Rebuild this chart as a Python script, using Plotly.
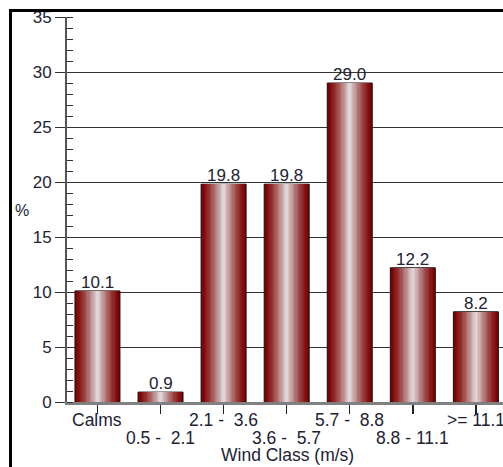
import plotly.graph_objects as go

categories = ["Calms", "0.5 - 2.1", "2.1 - 3.6", "3.6 - 5.7", "5.7 - 8.8", "8.8 - 11.1", ">= 11.1"]
tick_labels = ["Calms", "0.5 -\u00a0 2.1", "2.1 -\u00a0 3.6", "3.6 -\u00a0 5.7",
               "5.7 -\u00a0 8.8", "8.8 - 11.1", ">= 11.1"]
values = [10.1, 0.9, 19.8, 19.8, 29.0, 12.2, 8.2]
value_labels = ["10.1", "0.9", "19.8", "19.8", "29.0", "12.2", "8.2"]

FONT = "Liberation Sans, Arial"
x = list(range(len(categories)))
BAR_W = 0.713
N = 18
dark = (125, 0, 0)
light = (222, 214, 214)

PLOT_TOP, PLOT_BOTTOM, PLOT_LEFT = 17, 402, 67
PH = PLOT_BOTTOM - PLOT_TOP
PW = 503 - PLOT_LEFT


def py(pixel_y):
    return (PLOT_BOTTOM - pixel_y) / PH


def px(pixel_x):
    return (pixel_x - PLOT_LEFT) / PW


fig = go.Figure()
for k in range(N):
    t = k / (N - 1)
    f = t ** 1.3
    c = tuple(int(dark[i] + (light[i] - dark[i]) * f) for i in range(3))
    w = BAR_W * (1 - k / N)
    fig.add_trace(go.Bar(
        x=x, y=values, width=w,
        marker=dict(color="rgb(%d,%d,%d)" % c,
                    line=dict(color="#111111" if k == 0 else "rgba(0,0,0,0)", width=1 if k == 0 else 0)),
        hoverinfo="skip", showlegend=False,
    ))

annotations = []
for i, v in enumerate(values):
    annotations.append(dict(text=value_labels[i], x=i, y=v, xref="x", yref="y",
                            showarrow=False, xanchor="center", yanchor="bottom", yshift=-3,
                            font=dict(family=FONT, size=17, color="#222233")))
for i, lab in enumerate(tick_labels):
    row_y = 419.5 if i % 2 == 0 else 437.5
    annotations.append(dict(text=lab, x=i, y=py(row_y), xref="x", yref="paper",
                            showarrow=False, xanchor="center", yanchor="middle",
                            font=dict(family=FONT, size=17.5, color="#222233")))
annotations.append(dict(text="%", xref="paper", yref="paper", x=px(22), y=py(211),
                        showarrow=False, font=dict(family=FONT, size=16, color="#222233"),
                        xanchor="center", yanchor="middle"))
annotations.append(dict(text="Wind Class (m/s)", xref="paper", yref="paper", x=px(287),
                        y=py(455), showarrow=False, font=dict(family=FONT, size=17.5, color="#222233"),
                        xanchor="center", yanchor="middle"))

fig.update_layout(
    width=503, height=467,
    margin=dict(l=PLOT_LEFT, r=0, t=PLOT_TOP, b=467 - PLOT_BOTTOM),
    paper_bgcolor="white", plot_bgcolor="white",
    barmode="overlay", bargap=0,
    font=dict(family=FONT, size=17, color="#222233"),
    xaxis=dict(
        range=[-0.483, 6.43], tickmode="array", tickvals=x, ticktext=[""] * len(x),
        ticks="outside", ticklen=9, tickcolor="#222222", tickwidth=1.5,
        showline=True, linecolor="#808080", linewidth=3,
        showgrid=False, zeroline=False, automargin=False,
    ),
    yaxis=dict(
        range=[0, 35], tickmode="linear", tick0=0, dtick=5,
        ticks="outside", ticklen=10, tickcolor="#333333",
        showline=True, linecolor="#555555", linewidth=2,
        showgrid=True, gridcolor="#333333", gridwidth=1, zeroline=False,
        tickfont=dict(family=FONT, size=17, color="#222233"), automargin=False,
        minor=dict(ticks="inside", dtick=1, ticklen=6, tickcolor="#333333", showgrid=False),
    ),
    annotations=annotations,
    shapes=[
        dict(type="rect", xref="paper", yref="paper",
             x0=px(10.5), x1=1.2, y0=-0.4, y1=py(10.5),
             line=dict(color="black", width=3), fillcolor="rgba(0,0,0,0)", layer="above"),
    ],
)

fig.write_html("out.html", config={"displayModeBar": False, "staticPlot": True},
               post_script="document.body.style.margin='0';document.body.style.overflow='hidden';")
